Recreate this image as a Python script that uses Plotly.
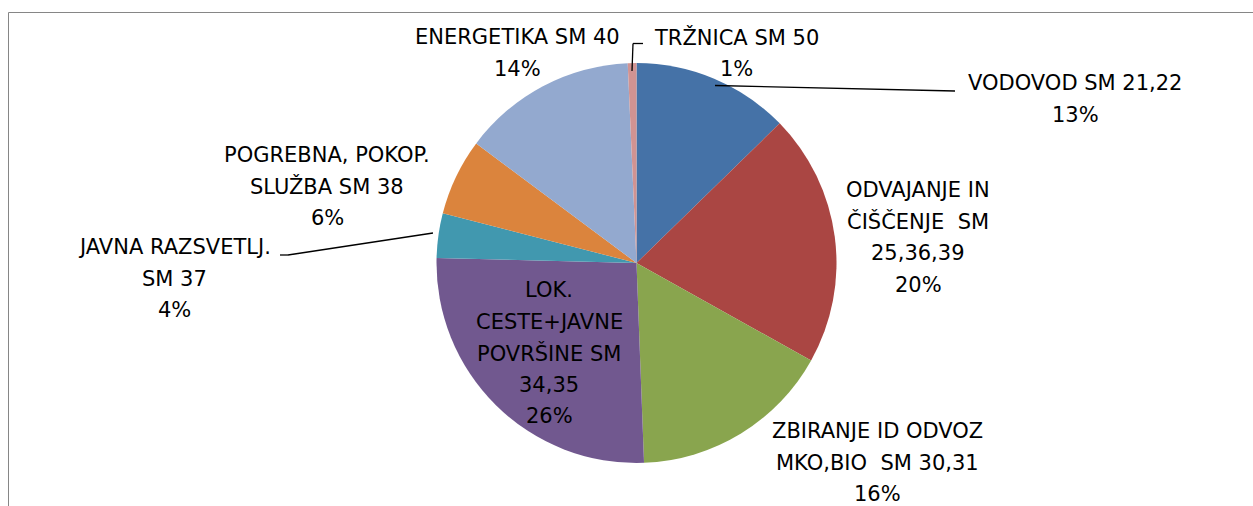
import plotly.graph_objects as go

# ---- data ----
categories = [
    "VODOVOD SM 21,22",
    "ODVAJANJE IN ČIŠČENJE SM 25,36,39",
    "ZBIRANJE ID ODVOZ MKO,BIO SM 30,31",
    "LOK. CESTE+JAVNE POVRŠINE SM 34,35",
    "JAVNA RAZSVETLJ. SM 37",
    "POGREBNA, POKOP. SLUŽBA SM 38",
    "ENERGETIKA SM 40",
    "TRŽNICA SM 50",
]
values = [12.7, 20.4, 16.3, 26.0, 3.6, 6.2, 14.1, 0.7]
label_lines = [
    ["VODOVOD SM 21,22"],
    ["ODVAJANJE IN", "ČIŠČENJE  SM", "25,36,39"],
    ["ZBIRANJE ID ODVOZ", "MKO,BIO  SM 30,31"],
    ["LOK.", "CESTE+JAVNE", "POVRŠINE SM", "34,35"],
    ["JAVNA RAZSVETLJ.", "SM 37"],
    ["POGREBNA, POKOP.", "SLUŽBA SM 38"],
    ["ENERGETIKA SM 40"],
    ["TRŽNICA SM 50"],
]
colors = ["#4572A7", "#AA4643", "#89A54E", "#71588F",
          "#4198AF", "#DB843D", "#93A9CF", "#D19392"]

# ---- layout constants (pixels) ----
W, H = 1253, 506
CX, CY, R = 636.5, 263, 200
label_pos = [(1075, 83), (918, 190), (877, 431), (549, 290),
             (174, 247), (327, 155), (517, 37), (736, 37)]
PITCH = 31.5
FONT = dict(family="DejaVu Sans, sans-serif", size=21, color="#000000")
leaders = [
    [(715, 85.5), (955, 91)],
    [(433, 233), (288, 255), (280, 255)],
    [(632, 71), (633, 43.5), (643, 43.5)],
]

def px(x):
    return x / W

def py(y):
    return 1 - y / H

fig = go.Figure(go.Pie(
    labels=categories, values=values, sort=False, direction="clockwise",
    rotation=0, textinfo="none", hoverinfo="label+percent",
    marker=dict(colors=colors, line=dict(width=0)),
    domain=dict(x=[px(CX - R), px(CX + R)], y=[py(CY + R), py(CY - R)]),
    showlegend=False,
))

total = sum(values)
annotations = []
for lines, v, (lx, ly) in zip(label_lines, values, label_pos):
    all_lines = lines + [f"{round(v / total * 100)}%"]
    for i, t in enumerate(all_lines):
        annotations.append(dict(
            x=px(lx), y=py(ly + i * PITCH), xref="paper", yref="paper",
            text=t, showarrow=False, xanchor="center", yanchor="middle",
            font=FONT,
        ))

shapes = []
for pts in leaders:
    for (x0, y0), (x1, y1) in zip(pts[:-1], pts[1:]):
        shapes.append(dict(type="line", xref="paper", yref="paper",
                           x0=px(x0), y0=py(y0), x1=px(x1), y1=py(y1),
                           line=dict(color="#000000", width=1.3)))
# chart frame (left and top edges visible)
shapes.append(dict(type="line", xref="paper", yref="paper",
                   x0=px(8.5), y0=py(12.5), x1=px(8.5), y1=0,
                   line=dict(color="#868686", width=1)))
shapes.append(dict(type="line", xref="paper", yref="paper",
                   x0=px(8.5), y0=py(12.5), x1=1, y1=py(12.5),
                   line=dict(color="#868686", width=1)))

fig.update_layout(
    width=W, height=H, margin=dict(l=0, r=0, t=0, b=0),
    paper_bgcolor="white", plot_bgcolor="white",
    annotations=annotations, shapes=shapes,
)
fig.write_html("out.html", config={"displayModeBar": False},
               post_script="document.body.style.margin='0';"
                           "document.body.style.overflow='hidden';")
